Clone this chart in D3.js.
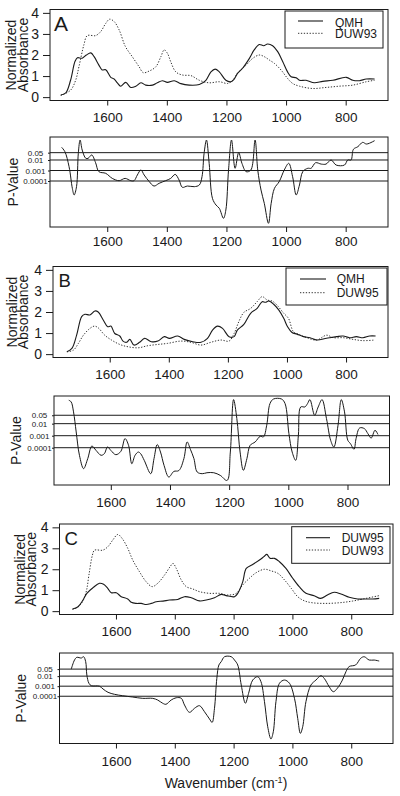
<!DOCTYPE html>
<html><head><meta charset="utf-8">
<script src="https://cdn.jsdelivr.net/npm/d3@7"></script>
<style>
body{margin:0;background:#fff;}
svg{display:block;}
</style>
</head><body>
<svg id="c" width="400" height="796"></svg>
<script>
// ---------------- data ----------------
const xTicks = [1600, 1400, 1200, 1000, 800];
const absTicks = [0, 1, 2, 3, 4];
const pTicks = [0.05, 0.01, 0.001, 0.0001];
const pTickLabels = ["0.05", "0.01", "0.001", "0.0001"];
const wnDomain = [1792, 658];
const absDomain = [-0.16, 4.16];

// Panel A: [wavenumber, normalized absorbance]
const A_QMH = [[1756,0.1],[1739,0.2],[1723,0.8],[1708,1.7],[1700,1.87],[1684,1.85],[1670,2.0],[1655,2.1],[1644,1.92],[1628,1.52],[1617,1.29],[1605,1.3],[1588,0.94],[1577,0.86],[1566,0.68],[1555,0.52],[1538,0.7],[1521,0.46],[1504,0.52],[1487,0.68],[1471,0.57],[1448,0.57],[1432,0.68],[1415,0.78],[1398,0.7],[1375,0.78],[1353,0.64],[1325,0.57],[1291,0.6],[1269,0.8],[1252,1.2],[1238,1.33],[1224,1.2],[1202,0.8],[1185,0.73],[1174,0.85],[1163,1.13],[1146,1.37],[1123,1.84],[1107,2.24],[1090,2.5],[1075,2.44],[1062,2.52],[1045,2.44],[1028,2.16],[1011,1.68],[995,1.2],[983,0.97],[966,0.92],[955,0.8],[933,0.8],[905,0.68],[877,0.75],[843,0.8],[798,0.94],[776,0.8],[754,0.78],[731,0.86],[703,0.86]];
const A_DUW93 = [[1756,0.08],[1723,0.33],[1706,0.8],[1695,1.44],[1678,2.5],[1667,2.92],[1639,2.92],[1622,3.11],[1605,3.5],[1592,3.7],[1577,3.59],[1560,3.19],[1539,2.4],[1516,1.92],[1493,1.44],[1479,1.16],[1459,1.24],[1437,1.44],[1420,1.92],[1409,2.24],[1398,2.08],[1387,1.68],[1370,1.2],[1348,1.05],[1319,1.02],[1291,0.8],[1258,0.68],[1224,0.73],[1196,0.65],[1179,0.8],[1163,1.13],[1134,1.52],[1112,1.84],[1090,2.0],[1073,1.92],[1056,1.76],[1039,1.6],[1017,1.29],[995,0.89],[978,0.65],[955,0.52],[911,0.41],[866,0.46],[821,0.52],[776,0.57],[731,0.73],[703,0.8]];
// Panel A: [wavenumber, log10(P)]
const A_P = [[1753,-0.79],[1742,-1.21],[1728,-2.64],[1717,-4.7],[1711,-5.33],[1703,-4.54],[1697,-1.36],[1691,-0.1],[1684,-1.05],[1672,-1.84],[1664,-1.84],[1652,-1.52],[1639,-2.26],[1628,-3.11],[1605,-3.27],[1583,-3.75],[1560,-3.97],[1540,-3.75],[1521,-3.97],[1510,-3.97],[1499,-3.43],[1487,-2.95],[1476,-3.43],[1459,-4.06],[1443,-4.48],[1426,-4.22],[1404,-3.97],[1387,-3.75],[1372,-3.37],[1359,-3.9],[1348,-4.6],[1331,-4.48],[1308,-4.54],[1291,-4.38],[1282,-3.59],[1275,-1.36],[1267,-0.1],[1258,-2.32],[1247,-5.65],[1235,-6.29],[1224,-6.6],[1210,-7.55],[1202,-6.76],[1193,-2.95],[1183,-0.1],[1171,-2.79],[1159,-1.3],[1148,-2.32],[1134,-3.11],[1118,-2.95],[1104,-0.1],[1095,-2.95],[1084,-4.86],[1073,-6.13],[1059,-8.03],[1050,-6.13],[1039,-4.7],[1023,-4.06],[1006,-2.95],[991,-2.32],[978,-3.59],[966,-5.33],[955,-4.38],[944,-3.11],[927,-2.79],[916,-2.79],[901,-2.26],[882,-2.39],[866,-2.39],[849,-2.0],[832,-2.48],[804,-2.48],[793,-2.0],[782,-2.0],[774,-0.98],[759,-0.73],[743,-0.32],[731,-0.48],[720,-0.4],[703,-0.16]];

// Panel B
const B_QMH = [[1745,0.11],[1728,0.27],[1712,0.9],[1695,1.78],[1684,1.89],[1667,1.86],[1650,2.05],[1639,2.0],[1622,1.62],[1607,1.3],[1596,1.33],[1583,0.98],[1566,0.86],[1555,0.62],[1543,0.56],[1532,0.7],[1518,0.43],[1499,0.56],[1482,0.75],[1459,0.59],[1437,0.62],[1415,0.83],[1398,0.75],[1370,0.86],[1348,0.7],[1319,0.59],[1291,0.56],[1269,0.75],[1252,1.14],[1235,1.33],[1218,1.22],[1196,0.83],[1179,0.83],[1168,1.14],[1146,1.41],[1123,1.94],[1101,2.17],[1084,2.49],[1073,2.46],[1062,2.52],[1045,2.37],[1028,2.1],[1011,1.7],[998,1.3],[983,1.03],[966,0.95],[944,0.83],[922,0.78],[899,0.67],[866,0.75],[832,0.83],[810,0.86],[788,0.78],[765,0.83],[743,0.78],[720,0.86],[700,0.86]];
const B_DUW95 = [[1745,0.11],[1723,0.19],[1706,0.51],[1689,0.9],[1667,1.22],[1652,1.33],[1639,1.25],[1617,0.9],[1594,0.67],[1566,0.46],[1538,0.35],[1504,0.3],[1471,0.4],[1437,0.46],[1404,0.51],[1359,0.62],[1325,0.56],[1291,0.43],[1258,0.56],[1224,0.67],[1196,0.62],[1179,0.98],[1163,1.54],[1146,1.98],[1123,2.17],[1101,2.49],[1084,2.73],[1067,2.57],[1050,2.52],[1034,2.33],[1011,1.94],[995,1.7],[978,1.06],[961,0.94],[933,0.78],[899,0.67],[866,0.9],[843,0.78],[810,0.78],[776,0.7],[743,0.64],[703,0.67]];
const B_P = [[1742,-0.05],[1734,-0.19],[1726,-1.02],[1717,-2.69],[1706,-4.63],[1692,-5.74],[1678,-4.91],[1664,-3.86],[1650,-4.22],[1633,-4.63],[1622,-4.5],[1611,-3.94],[1600,-4.22],[1583,-4.58],[1566,-4.3],[1552,-3.24],[1540,-3.8],[1529,-5.33],[1518,-4.63],[1507,-4.36],[1499,-4.5],[1487,-5.05],[1465,-6.16],[1454,-4.91],[1443,-3.74],[1432,-4.36],[1420,-5.47],[1404,-6.44],[1387,-5.97],[1370,-5.9],[1353,-4.91],[1342,-3.52],[1331,-4.13],[1319,-4.91],[1308,-6.02],[1291,-6.16],[1275,-6.08],[1252,-6.08],[1230,-6.3],[1207,-6.72],[1196,-4.36],[1185,0.0],[1174,-1.58],[1163,-4.36],[1152,-5.88],[1140,-4.91],[1129,-3.8],[1112,-3.52],[1095,-3.05],[1084,-3.1],[1073,-2.13],[1062,-0.33],[1050,0.05],[1023,0.05],[1011,-0.33],[998,-2.83],[987,-4.36],[975,-5.05],[966,-2.97],[958,-0.61],[944,-0.61],[935,-0.33],[927,0.0],[911,-1.3],[899,-0.61],[886,0.0],[871,-1.58],[857,-3.38],[846,-3.94],[832,-2.13],[821,0.0],[810,-1.02],[799,-3.38],[790,-3.66],[778,-4.13],[771,-3.24],[759,-2.36],[743,-2.41],[731,-2.83],[720,-3.2],[707,-2.55],[697,-2.9]];

// Panel C
const C_DUW95 = [[1748,0.1],[1729,0.21],[1712,0.53],[1699,0.85],[1678,1.12],[1656,1.33],[1642,1.28],[1628,1.09],[1616,0.88],[1599,0.88],[1582,0.69],[1560,0.58],[1548,0.42],[1531,0.37],[1514,0.37],[1497,0.32],[1480,0.37],[1463,0.45],[1440,0.48],[1418,0.53],[1390,0.56],[1367,0.69],[1344,0.64],[1316,0.49],[1293,0.53],[1265,0.64],[1242,0.8],[1225,0.74],[1197,0.69],[1186,0.85],[1169,1.4],[1157,2.04],[1135,2.23],[1112,2.44],[1097,2.6],[1087,2.71],[1076,2.52],[1061,2.52],[1044,2.36],[1022,2.04],[999,1.57],[977,1.17],[954,0.85],[926,0.74],[904,0.61],[881,0.77],[858,0.9],[835,0.82],[807,0.66],[778,0.58],[750,0.58],[727,0.58],[705,0.61]];
const C_DUW93 = [[1748,0.08],[1729,0.2],[1712,0.5],[1700,1.0],[1692,1.72],[1680,2.68],[1673,2.91],[1645,2.91],[1628,3.07],[1611,3.39],[1594,3.66],[1579,3.47],[1560,3.0],[1543,2.44],[1520,1.88],[1497,1.4],[1477,1.17],[1458,1.33],[1435,1.72],[1416,2.12],[1406,2.28],[1395,2.04],[1378,1.49],[1361,1.17],[1339,1.06],[1316,0.93],[1282,0.85],[1248,0.85],[1220,0.77],[1191,0.85],[1169,1.25],[1146,1.57],[1124,1.83],[1095,2.0],[1072,1.92],[1049,1.8],[1027,1.49],[1004,1.09],[982,0.69],[959,0.49],[932,0.4],[887,0.37],[841,0.4],[796,0.48],[750,0.61],[705,0.74]];
const C_P = [[1752,-1.3],[1741,-0.4],[1733,-0.13],[1718,-0.2],[1710,-0.07],[1703,-0.56],[1699,-1.89],[1692,-2.71],[1684,-2.95],[1656,-3.0],[1644,-3.28],[1627,-3.61],[1605,-3.81],[1577,-3.95],[1543,-4.08],[1509,-4.21],[1475,-4.21],[1458,-4.38],[1441,-4.7],[1430,-4.8],[1412,-4.37],[1395,-4.15],[1378,-4.2],[1367,-4.87],[1350,-5.6],[1333,-5.2],[1316,-4.94],[1299,-5.54],[1282,-6.26],[1273,-6.6],[1265,-5.2],[1257,-2.22],[1250,-0.89],[1242,-0.56],[1231,-0.07],[1208,-0.07],[1197,-0.4],[1186,-0.89],[1174,-2.88],[1160,-4.7],[1149,-3.71],[1135,-2.39],[1118,-2.06],[1107,-2.55],[1095,-4.54],[1084,-7.03],[1073,-8.25],[1065,-7.53],[1056,-4.54],[1044,-2.71],[1027,-2.39],[1010,-2.71],[993,-4.21],[982,-6.2],[973,-7.69],[965,-7.03],[954,-4.54],[937,-2.88],[920,-2.39],[903,-1.96],[892,-2.22],[875,-3.05],[861,-3.55],[847,-3.2],[830,-2.39],[818,-1.56],[807,-1.05],[785,-0.89],[768,-0.23],[756,-0.07],[739,-0.4],[722,-0.4],[705,-0.5]];

// ---------------- drawing ----------------
const FONT = "'Liberation Sans', Arial, Helvetica, sans-serif";
const INK = "#1a1a1a";
const svg = d3.select("#c");

function styleAxis(a, size){
  a.select(".domain").remove();
  a.attr("font-family", FONT).attr("font-size", size).attr("color", INK);
  a.selectAll(".tick line").attr("stroke-width", 1);
}

function xAxis(g, x, b, pad){
  g.append("g").attr("transform", `translate(0,${b})`)
    .call(d3.axisBottom(x).tickValues(xTicks).tickSize(5).tickPadding(pad).tickFormat(d3.format("d")))
    .call(a => styleAxis(a, 13.5));
}

function box(g, c){
  g.append("rect").attr("x", c.l).attr("y", c.t).attr("width", c.r - c.l).attr("height", c.b - c.t)
    .attr("fill", "none").attr("stroke", INK).attr("stroke-width", 1);
}

function drawAbs(c, solid, dotted, names){
  const g = svg.append("g");
  const x = d3.scaleLinear().domain(wnDomain).range([c.l, c.r]);
  const y = d3.scaleLinear().domain(absDomain).range([c.b, c.t]);
  xAxis(g, x, c.b, c.xpad);
  g.append("g").attr("transform", `translate(${c.l},0)`)
    .call(d3.axisLeft(y).tickValues(absTicks).tickSize(7).tickPadding(4).tickFormat(d3.format("d")))
    .call(a => styleAxis(a, 14));
  box(g, c);
  const line = d3.line().x(d => x(d[0])).y(d => y(d[1])).curve(d3.curveCatmullRom.alpha(0.5));
  g.append("path").datum(dotted).attr("d", line).attr("fill", "none")
    .attr("stroke", "#333").attr("stroke-width", 1).attr("stroke-dasharray", "1.3,1.6");
  g.append("path").datum(solid).attr("d", line).attr("fill", "none")
    .attr("stroke", INK).attr("stroke-width", 1.1);
  // letter
  g.append("text").attr("x", c.lx).attr("y", c.ly).attr("font-family", FONT)
    .attr("font-size", c.lsize).attr("fill", INK).text(c.letter);
  // y label
  const cy = (c.t + c.b) / 2;
  [["Normalized", c.y1], ["Absorbance", c.y2]].forEach(([t, bx]) => {
    g.append("text").attr("transform", `translate(${bx},${cy}) rotate(-90)`)
      .attr("text-anchor", "middle").attr("font-family", FONT).attr("font-size", 14)
      .attr("fill", INK).text(t);
  });
  // legend
  const L = c.leg;
  g.append("rect").attr("x", L.x).attr("y", L.y).attr("width", L.w).attr("height", L.h)
    .attr("fill", "#fff").attr("stroke", INK).attr("stroke-width", 1);
  g.append("line").attr("x1", L.lx1).attr("x2", L.lx2).attr("y1", L.s1).attr("y2", L.s1)
    .attr("stroke", INK).attr("stroke-width", 1.1);
  g.append("line").attr("x1", L.lx1).attr("x2", L.lx2).attr("y1", L.s2).attr("y2", L.s2)
    .attr("stroke", "#333").attr("stroke-width", 1).attr("stroke-dasharray", "1.3,1.6");
  g.append("text").attr("x", L.tx).attr("y", L.b1).attr("font-family", FONT).attr("font-size", 12)
    .attr("fill", INK).text(names[0]);
  g.append("text").attr("x", L.tx).attr("y", L.b2).attr("font-family", FONT).attr("font-size", 12)
    .attr("fill", INK).text(names[1]);
}

function drawP(c, data){
  const g = svg.append("g");
  const x = d3.scaleLinear().domain(wnDomain).range([c.l, c.r]);
  const y = d3.scaleLinear().domain(c.pdom).range([c.b, c.t]);
  xAxis(g, x, c.b, c.xpad);
  const logs = pTicks.map(p => Math.log10(p));
  g.append("g").selectAll("line").data(logs).join("line")
    .attr("x1", c.l).attr("x2", c.r).attr("y1", d => y(d)).attr("y2", d => y(d))
    .attr("stroke", INK).attr("stroke-width", 1);
  g.append("g").attr("transform", `translate(${c.l},0)`)
    .call(d3.axisLeft(y).tickValues(logs).tickSize(2).tickPadding(3).tickFormat((d, i) => pTickLabels[i]))
    .call(a => { styleAxis(a, 8); a.selectAll("text").attr("text-anchor", "middle").attr("x", -14.5); });
  box(g, c);
  const line = d3.line().x(d => x(d[0])).y(d => y(d[1])).curve(d3.curveCatmullRom.alpha(0.5));
  g.append("path").datum(data).attr("d", line).attr("fill", "none")
    .attr("stroke", INK).attr("stroke-width", 1);
  g.append("text").attr("transform", `translate(${c.ylx},${(c.t + c.b) / 2}) rotate(-90)`)
    .attr("text-anchor", "middle").attr("font-family", FONT).attr("font-size", 14)
    .attr("fill", INK).text("P-Value");
}

// panel layouts
drawAbs({l:50, r:388, t:9.5, b:100.5, xpad:6.6, letter:"A", lx:54, ly:31, lsize:21, y1:15.5, y2:27.5,
  leg:{x:285, y:11, w:98, h:37, lx1:298, lx2:323, s1:21, s2:33.3, tx:335, b1:26.5, b2:37.8}},
  A_QMH, A_DUW93, ["QMH", "DUW93"]);
drawP({l:50, r:388, t:137, b:227, xpad:4.5, pdom:[-8.38, 0.19], ylx:17.5}, A_P);

drawAbs({l:53, r:388, t:266.5, b:357.5, xpad:6.9, letter:"B", lx:58.5, ly:287, lsize:18.5, y1:16.5, y2:27.8,
  leg:{x:286, y:268, w:101, h:37, lx1:300, lx2:326, s1:279, s2:292.7, tx:336.7, b1:283.1, b2:296.5}},
  B_QMH, B_DUW95, ["QMH", "DUW95"]);
drawP({l:54, r:389.5, t:396, b:485, xpad:7.1, pdom:[-7.1, 0.3], ylx:20.5}, B_P);

drawAbs({l:59.5, r:393, t:524, b:614.5, xpad:6.6, letter:"C", lx:64.5, ly:545, lsize:18.5, y1:25, y2:36.3,
  leg:{x:291.7, y:526.7, w:98.3, h:36.6, lx1:306, lx2:330, s1:537.7, s2:550, tx:341.7, b1:542, b2:554.5}},
  C_DUW95, C_DUW93, ["DUW95", "DUW93"]);
drawP({l:59.5, r:393, t:653, b:743.5, xpad:7.9, pdom:[-8.7, 0.3], ylx:25.5}, C_P);

// x axis title
const xt = svg.append("text").attr("x", 226).attr("y", 788).attr("text-anchor", "middle")
  .attr("font-family", FONT).attr("font-size", 14).attr("fill", INK);
xt.append("tspan").text("Wavenumber (cm");
xt.append("tspan").attr("dy", -5).attr("font-size", 9).text("-1");
xt.append("tspan").attr("dy", 5).text(")");
</script>
</body></html>
